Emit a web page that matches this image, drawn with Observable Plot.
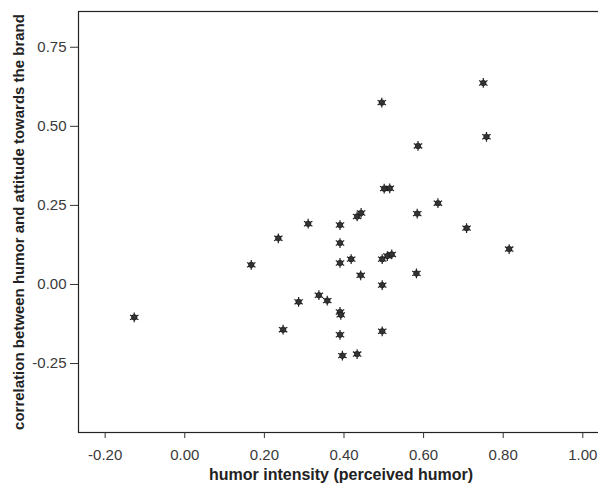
<!DOCTYPE html>
<html>
<head>
<meta charset="utf-8">
<script src="https://cdn.jsdelivr.net/npm/d3@7"></script>
<script src="https://cdn.jsdelivr.net/npm/@observablehq/plot@0.6"></script>
<style>
  html, body { margin: 0; padding: 0; background: #fff; }
  svg { display: block; }
</style>
</head>
<body>
<div id="chart"></div>
<script>
const humorIntensity = [
  -0.127, 0.167, 0.235, 0.247, 0.286, 0.310, 0.337, 0.358,
  0.390, 0.390, 0.390, 0.390, 0.392, 0.390, 0.396, 0.418,
  0.433, 0.443, 0.442, 0.433, 0.495, 0.501, 0.515, 0.496,
  0.509, 0.520, 0.496, 0.496, 0.582, 0.584, 0.586, 0.636,
  0.708, 0.750, 0.758, 0.815
];
const correlation = [
  -0.104, 0.062, 0.146, -0.143, -0.055, 0.192, -0.034, -0.051,
  0.188, 0.131, 0.068, -0.087, -0.096, -0.159, -0.225, 0.080,
  0.215, 0.226, 0.029, -0.220, 0.575, 0.303, 0.304, 0.080,
  0.090, 0.095, -0.002, -0.148, 0.035, 0.224, 0.438, 0.257,
  0.178, 0.637, 0.467, 0.112
];
const xTicks = [-0.2, 0, 0.2, 0.4, 0.6, 0.8, 1.0];
const yTicks = [-0.25, 0, 0.25, 0.5, 0.75];
const xDomain = [-0.267, 1.052];
const yDomain = [-0.468, 0.863];
const xLabel = "humor intensity (perceived humor)";
const yLabel = "correlation between humor and attitude towards the brand";

const fmt = d => d3.format(".2f")(d).replace("\u2212", "-");
const data = humorIntensity.map((x, i) => ({x, y: correlation[i]}));

const chart = Plot.plot({
  width: 598,
  height: 488,
  marginLeft: 78,
  marginRight: -5,
  marginTop: 11,
  marginBottom: 56,
  style: {fontFamily: "'Liberation Sans', Arial, sans-serif", color: "#3a3a3a", background: "#fff", overflow: "hidden"},
  x: {domain: xDomain},
  y: {domain: yDomain},
  marks: [
    Plot.frame({stroke: "#222", strokeWidth: 1.2}),
    Plot.axisX({ticks: xTicks, tickFormat: () => "", tickSize: 6, stroke: "#333", label: null}),
    Plot.axisY({ticks: yTicks, tickFormat: () => "", tickSize: 8, stroke: "#333", label: null}),
    Plot.text(xTicks, {x: d => d, frameAnchor: "bottom", dy: 27, text: fmt, fontSize: 15, fill: "#3a3a3a"}),
    Plot.text(yTicks, {y: d => d, frameAnchor: "left", dx: -12, textAnchor: "end", text: fmt, fontSize: 15, fill: "#3a3a3a"}),
    Plot.text([xLabel], {frameAnchor: "bottom", dy: 47, text: d => d, fontSize: 16, fontWeight: "bold", fill: "#222"}),
    Plot.text([yLabel], {frameAnchor: "left", dx: -59, rotate: -90, textAnchor: "middle", text: d => d, fontSize: 15, fontWeight: "bold", fill: "#222"}),
    Plot.dot(data, {x: "x", y: "y", symbol: "asterisk", r: 4.6, stroke: "#222", strokeWidth: 1.2}),
    Plot.dot(data, {x: "x", y: "y", r: 2.8, fill: "#333", stroke: "#111", strokeWidth: 0.6})
  ]
});
document.getElementById("chart").appendChild(chart);
</script>
</body>
</html>
